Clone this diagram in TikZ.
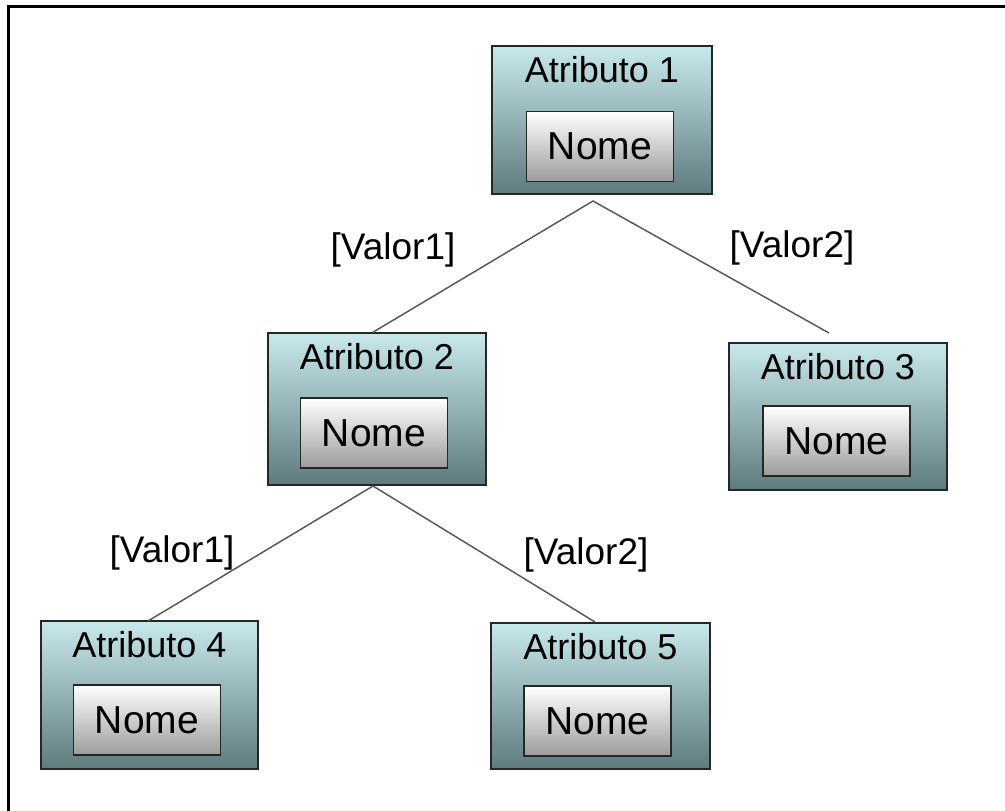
\documentclass[tikz,border=0pt]{standalone}
\usepackage{fontspec}
\setmainfont{Liberation Sans}
\definecolor{outtop}{HTML}{C8E9EC}
\definecolor{outbot}{HTML}{5E7B7D}
\definecolor{inbot}{HTML}{9C9C9C}
\definecolor{edgec}{HTML}{5A5A5A}
\tikzset{
  outerbox/.style={draw=black!85, line width=1.6pt, rectangle, top color=outtop, bottom color=outbot, inner sep=0pt},
  innerbox/.style={draw=black!85, line width=1.6pt, rectangle, top color=white, bottom color=inbot, minimum width=147pt, minimum height=70pt, inner sep=0pt, font=\fontsize{39}{44}\selectfont},
  titletext/.style={anchor=base, inner sep=0pt, font=\fontsize{36}{42}\selectfont},
  lbl/.style={inner sep=0pt, font=\fontsize{37}{42}\selectfont},
  conn/.style={draw=edgec, line width=1.5pt}
}
\begin{document}
\begin{tikzpicture}[x=1pt,y=-1pt]
\useasboundingbox (0,0) rectangle (1005,811);
% frame (top and left edges only)
\draw[line width=3pt] (8,811) -- (8,6) -- (1005,6);

% Atributo 1
\node[outerbox, minimum width=220pt, minimum height=148pt] (a1) at (602,120) {};
\node[titletext] (t1) at ([yshift=-37pt]a1.north) {Atributo 1};
\node[innerbox] (n1) at (600,146.5) {Nome};

% Atributo 2
\node[outerbox, minimum width=218pt, minimum height=152pt] (a2) at (377,409) {};
\node[titletext] (t2) at ([yshift=-37pt]a2.north) {Atributo 2};
\node[innerbox] (n2) at (374,433) {Nome};

% Atributo 3
\node[outerbox, minimum width=218pt, minimum height=147pt] (a3) at (838,416.5) {};
\node[titletext] (t3) at ([yshift=-37pt]a3.north) {Atributo 3};
\node[innerbox] (n3) at (836.5,441) {Nome};

% Atributo 4
\node[outerbox, minimum width=217pt, minimum height=148pt] (a4) at (149.5,695) {};
\node[titletext] (t4) at ([yshift=-37pt]a4.north) {Atributo 4};
\node[innerbox] (n4) at (147,720) {Nome};

% Atributo 5
\node[outerbox, minimum width=219pt, minimum height=146pt] (a5) at (600.5,696) {};
\node[titletext] (t5) at ([yshift=-37pt]a5.north) {Atributo 5};
\node[innerbox] (n5) at (597.5,721) {Nome};

% connectors
\coordinate (s1) at (593,201);
\coordinate (s2) at (373,486);
\coordinate (e3) at (829,333);
\coordinate (e4) at (148,621);
\coordinate (e5) at (595,622);
\draw[conn] (a2.north -| s2) -- (s1) -- (e3);
\draw[conn] (e4) -- (s2) -- (e5);

% labels
\node[lbl] (v1) at (393,250) {[Valor1]};
\node[lbl] (v2) at (792,248) {[Valor2]};
\node[lbl] (v3) at (172,553) {[Valor1]};
\node[lbl] (v4) at (586,555) {[Valor2]};
\end{tikzpicture}
\end{document}
